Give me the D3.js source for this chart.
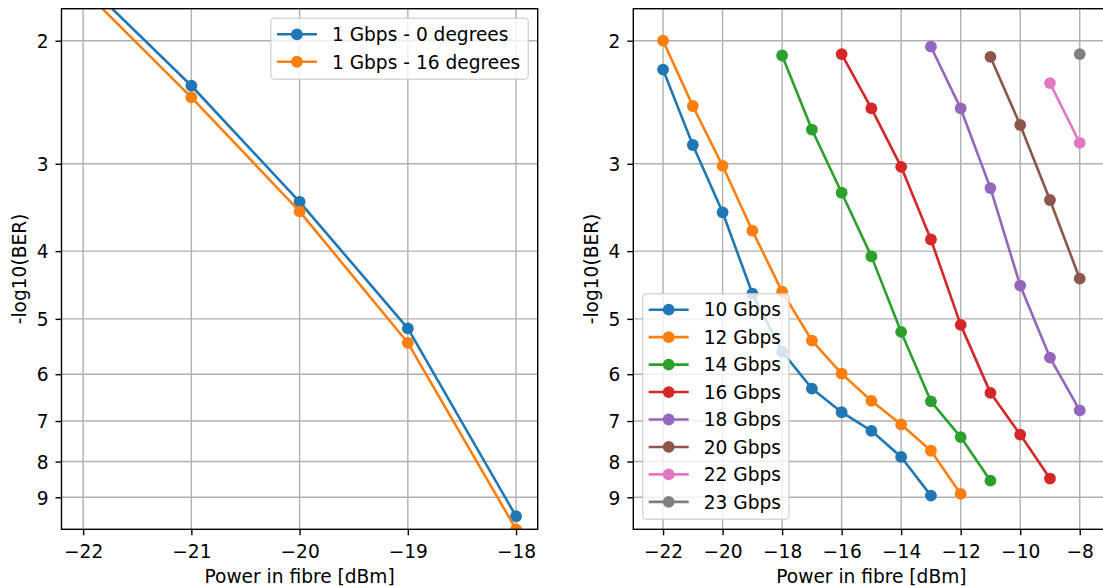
<!DOCTYPE html>
<html>
<head>
<meta charset="utf-8">
<script src="https://cdn.jsdelivr.net/npm/d3@7"></script>
<style>
  html, body { margin: 0; padding: 0; background: #fff; }
  svg { display: block; font-family: "DejaVu Sans", sans-serif; }
</style>
</head>
<body>
<svg id="chart" width="1103" height="586"></svg>
<script>
// ---- data ----
const leftPower = [-22, -21, -20, -19, -18];
const ber1G0deg = [1.64, 2.32, 3.40, 5.16, 9.58];
const ber1G16deg = [1.69, 2.41, 3.51, 5.41, 10.0];
const leftLabels = ["1 Gbps - 0 degrees", "1 Gbps - 16 degrees"];

const power10G = [-22, -21, -20, -19, -18, -17, -16, -15, -14, -13];
const ber10G = [2.20, 2.82, 3.52, 4.60, 5.57, 6.29, 6.80, 7.23, 7.88, 8.95];
const power12G = [-22, -21, -20, -19, -18, -17, -16, -15, -14, -13, -12];
const ber12G = [2.00, 2.48, 3.02, 3.74, 4.57, 5.37, 5.99, 6.55, 7.08, 7.72, 8.90];
const power14G = [-18, -17, -16, -15, -14, -13, -12, -11];
const ber14G = [2.10, 2.68, 3.30, 4.07, 5.22, 6.56, 7.38, 8.52];
const power16G = [-16, -15, -14, -13, -12, -11, -10, -9];
const ber16G = [2.09, 2.50, 3.03, 3.85, 5.10, 6.38, 7.32, 8.46];
const power18G = [-13, -12, -11, -10, -9, -8];
const ber18G = [2.04, 2.50, 3.25, 4.48, 5.68, 6.76];
const power20G = [-11, -10, -9, -8];
const ber20G = [2.11, 2.64, 3.38, 4.38];
const power22G = [-9, -8];
const ber22G = [2.30, 2.80];
const power23G = [-8];
const ber23G = [2.09];
const rightLabels = ["10 Gbps", "12 Gbps", "14 Gbps", "16 Gbps", "18 Gbps", "20 Gbps", "22 Gbps", "23 Gbps"];

const yTicks = [2, 3, 4, 5, 6, 7, 8, 9];
const yDomain = [1.8, 10];
const leftXTicks = [-22, -21, -20, -19, -18];
const leftXDomain = [-22.2, -17.8];
const rightXTicks = [-22, -20, -18, -16, -14, -12, -10, -8];
const rightXDomain = [-23, -7];

const tab10 = ["#1f77b4", "#ff7f0e", "#2ca02c", "#d62728", "#9467bd", "#8c564b", "#e377c2", "#7f7f7f"];

const zip = (xs, ys) => xs.map((x, i) => ({ x: x, y: ys[i] }));

const leftSeries = [
    { label: leftLabels[0], pts: zip(leftPower, ber1G0deg) },
    { label: leftLabels[1], pts: zip(leftPower, ber1G16deg) }
];
const rightSeries = [
    zip(power10G, ber10G), zip(power12G, ber12G), zip(power14G, ber14G), zip(power16G, ber16G),
    zip(power18G, ber18G), zip(power20G, ber20G), zip(power22G, ber22G), zip(power23G, ber23G)
].map((pts, i) => ({ label: rightLabels[i], pts: pts }));

const svg = d3.select("#chart");
const FS = 18.6;
const gridColor = "#b0b0b0";

function drawPanel(id, box, series, xDomain, xTicks, legendPos) {
    const w = box.x1 - box.x0, h = box.y1 - box.y0;
    const g = svg.append("g").attr("transform", `translate(${box.x0},${box.y0})`);

    const x = d3.scaleLinear().domain(xDomain).range([0, w]);
    const y = d3.scaleLog().domain(yDomain).range([0, h]);   // inverted: small values on top

    g.append("defs").append("clipPath").attr("id", "clip-" + id)
        .append("rect").attr("width", w).attr("height", h);

    // grid
    g.append("g").selectAll("line").data(xTicks).join("line")
        .attr("x1", d => x(d)).attr("x2", d => x(d)).attr("y1", 0).attr("y2", h)
        .attr("stroke", gridColor).attr("stroke-width", 1.4);
    g.append("g").selectAll("line").data(yTicks).join("line")
        .attr("y1", d => y(d)).attr("y2", d => y(d)).attr("x1", 0).attr("x2", w)
        .attr("stroke", gridColor).attr("stroke-width", 1.4);

    // lines and markers
    const line = d3.line().x(d => x(d.x)).y(d => y(d.y));
    const plot = g.append("g").attr("clip-path", `url(#clip-${id})`);
    series.forEach((s, i) => {
        plot.append("path").datum(s.pts)
            .attr("fill", "none").attr("stroke", tab10[i]).attr("stroke-width", 2.6)
            .attr("stroke-linejoin", "round").attr("d", line);
        plot.append("g").selectAll("circle").data(s.pts).join("circle")
            .attr("cx", d => x(d.x)).attr("cy", d => y(d.y)).attr("r", 5.9)
            .attr("fill", tab10[i]);
    });

    // axes
    const xAxis = d3.axisBottom(x).tickValues(xTicks).tickSize(6).tickPadding(6)
        .tickFormat(d => d3.format("d")(d).replace("-", "\u2212"));
    const yAxis = d3.axisLeft(y).tickValues(yTicks).tickSize(6).tickPadding(7)
        .tickFormat(d3.format("d"));

    const gx = g.append("g").attr("transform", `translate(0,${h})`).call(xAxis);
    const gy = g.append("g").call(yAxis);
    [gx, gy].forEach(a => {
        a.select(".domain").remove();
        a.selectAll(".tick line").attr("stroke", "#000").attr("stroke-width", 1.4);
        a.selectAll(".tick text").attr("fill", "#000").style("font-size", FS + "px")
            .style("font-family", "DejaVu Sans");
    });
    gx.selectAll(".tick text").attr("dy", null).attr("y", 28.5);
    gy.selectAll(".tick text").attr("dy", "0.36em");

    // spines
    g.append("rect").attr("width", w).attr("height", h)
        .attr("fill", "none").attr("stroke", "#000").attr("stroke-width", 1.4);

    // labels
    g.append("text").attr("x", w / 2).attr("y", h + 53.5).attr("text-anchor", "middle")
        .style("font-size", FS + "px").text("Power in fibre [dBm]");
    g.append("text")
        .attr("transform", `translate(-35.5,${h / 2}) rotate(-90)`)
        .attr("text-anchor", "middle").style("font-size", FS + "px").text("-log10(BER)");

    // legend
    const rowH = 27.45;
    const lg = g.append("g");
    const frame = lg.append("rect").attr("rx", 3.5)
        .attr("fill", "#fff").attr("fill-opacity", 0.8)
        .attr("stroke", "#ccc").attr("stroke-opacity", 0.8).attr("stroke-width", 1.4);
    let maxW = 0;
    series.forEach((s, i) => {
        const cy = 16 + i * rowH;
        lg.append("line").attr("x1", 6).attr("x2", 46).attr("y1", cy).attr("y2", cy)
            .attr("stroke", tab10[i]).attr("stroke-width", 2.6);
        lg.append("circle").attr("cx", 26).attr("cy", cy).attr("r", 5.9).attr("fill", tab10[i]);
        const t = lg.append("text").attr("x", 61).attr("y", cy + 6.8)
            .style("font-size", FS + "px").text(s.label);
        maxW = Math.max(maxW, t.node().getComputedTextLength());
    });
    const lw = 61 + maxW + 8, lh = series.length * rowH + 6;
    frame.attr("width", lw).attr("height", lh);
    let lx, ly;
    if (legendPos === "upper right") { lx = w - 9.4 - lw; ly = 9.6; }
    else { lx = 9.4; ly = h - 10 - lh; }
    lg.attr("transform", `translate(${lx},${ly})`);
}

drawPanel("L", { x0: 61.5, x1: 537.7, y0: 8.7, y1: 529.3 }, leftSeries, leftXDomain, leftXTicks, "upper right");
drawPanel("R", { x0: 633.3, x1: 1109.5, y0: 8.7, y1: 529.3 }, rightSeries, rightXDomain, rightXTicks, "lower left");
</script>
</body>
</html>
